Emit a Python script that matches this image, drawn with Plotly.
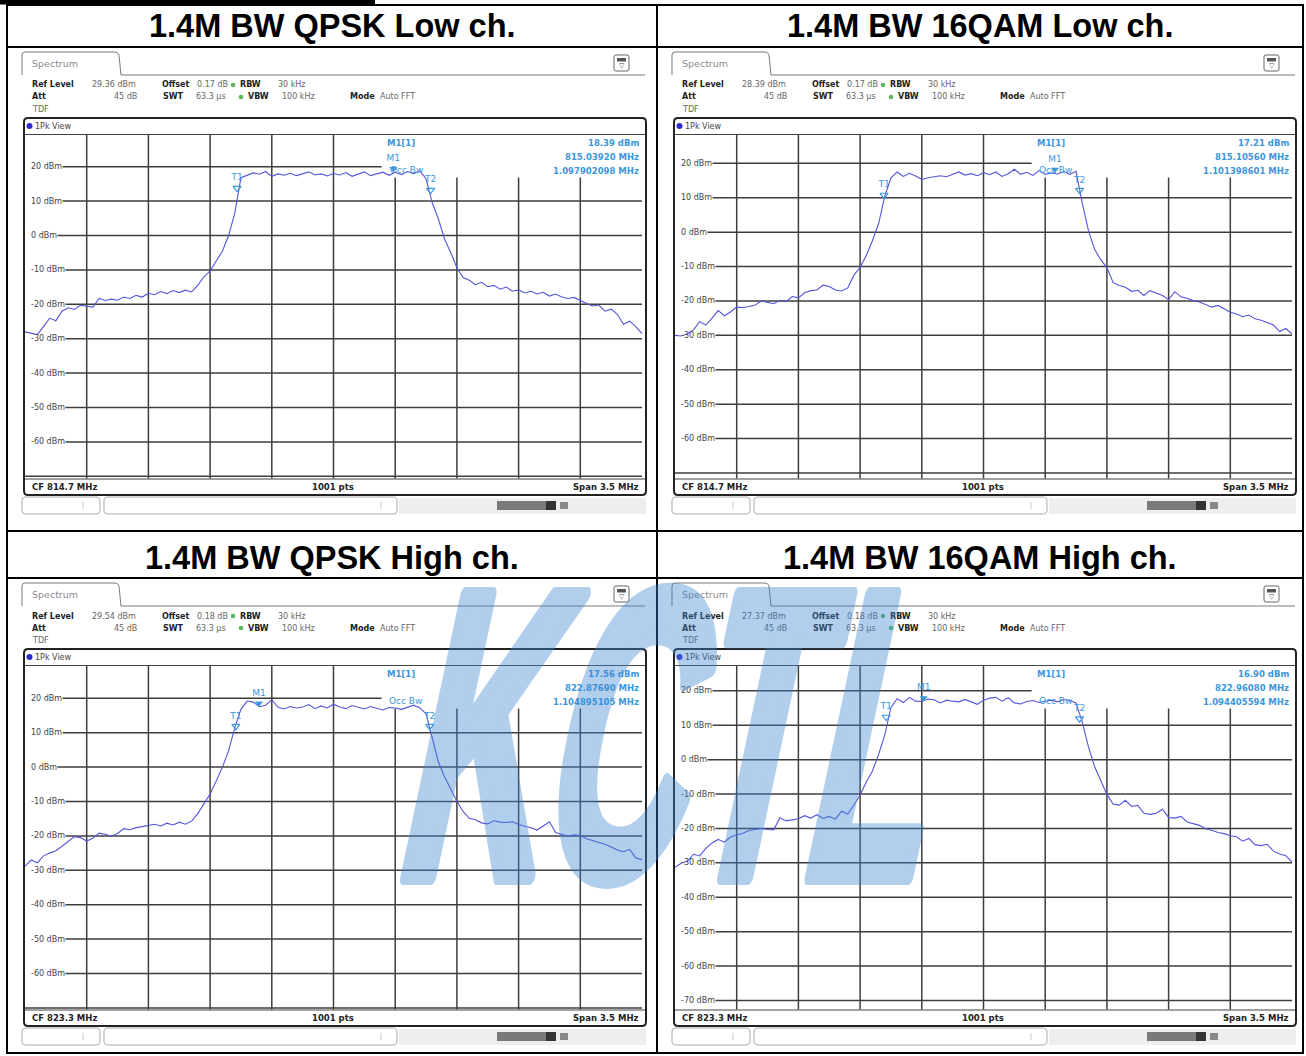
import math
import plotly.graph_objects as go

W, H = 1306, 1056

# ---------------- data ----------------
titles = ["1.4M BW QPSK Low ch.", "1.4M BW 16QAM Low ch.",
          "1.4M BW QPSK High ch.", "1.4M BW 16QAM High ch."]
cf_mhz = [814.7, 814.7, 823.3, 823.3]
span_mhz = 3.5
n_pts_label = "1001 pts"
ref_level = [29.36, 28.39, 29.54, 27.37]
offset_db = ["0.17", "0.17", "0.18", "0.18"]
m1_freq = [815.03920, 815.10560, 822.87690, 822.96080]
m1_level = [18.39, 17.21, 17.56, 16.90]
obw_mhz = ["1.097902098", "1.101398601", "1.104895105", "1.094405594"]
t1_freq = [814.153, 814.136, 822.746, 822.748]
t1_level = [13.8, 10.8, 11.9, 12.4]
t2_freq = [815.251, 815.245, 823.846, 823.845]
t2_level = [13.2, 12.2, 11.9, 11.9]
grid_label_values = [
    [20, 10, 0, -10, -20, -30, -40, -50, -60],
    [20, 10, 0, -10, -20, -30, -40, -50, -60],
    [20, 10, 0, -10, -20, -30, -40, -50, -60],
    [20, 10, 0, -10, -20, -30, -40, -50, -60, -70],
]

qpsk_low = [
    -28.0, -28.5, -28.8, -26.5, -24.0, -24.8, -22.0, -21.0, -21.5, -20.3,
    -20.6, -20.8, -18.3, -18.9, -18.5, -18.8, -17.9, -18.3, -17.4, -17.9,
    -16.8, -17.2, -16.3, -16.9, -16.0, -16.6, -15.9, -16.4, -14.5, -12.0,
    -10.3, -7.5, -4.5, 0.0, 6.5, 16.8, 17.6, 18.2, 17.8, 18.6,
    17.2, 17.9, 17.5, 18.1, 17.4, 17.9, 18.5, 17.6, 17.9, 17.3,
    18.0, 17.6, 18.3, 17.2, 17.8, 18.5, 17.4, 17.9, 18.4, 17.5,
    18.39, 17.7, 18.6, 18.0, 18.8, 16.5, 9.5, 4.8, -1.0, -5.0,
    -9.4, -12.2, -13.0, -14.3, -13.6, -14.9, -14.5, -15.6, -15.0, -16.2,
    -15.8, -16.7, -16.2, -17.0, -16.5, -17.6, -17.0, -17.9, -18.3, -18.0,
    -19.0, -19.8, -20.5, -20.2, -22.0, -21.4, -22.9, -25.8, -24.9, -26.5,
    -28.5,
]
qam16_low = [
    -30.0, -30.2, -29.5, -28.4, -26.0, -27.0, -25.0, -22.8, -24.3, -23.2,
    -21.8, -21.9, -21.6, -21.2, -20.0, -20.3, -20.8, -19.8, -20.2, -18.7,
    -19.1, -17.6, -17.0, -16.8, -15.4, -15.8, -16.8, -17.1, -16.2, -12.5,
    -10.2, -6.8, -2.5, 2.5, 10.5, 15.8, 17.5, 16.2, 17.1, 16.3,
    15.3, 15.8, 16.0, 16.4, 16.1, 16.9, 17.5, 16.6, 17.0, 16.4,
    17.3, 16.7, 17.5, 16.2, 17.0, 18.3, 16.8, 17.4, 16.5, 17.9,
    16.8, 17.21, 16.9, 17.6, 16.8, 17.7, 8.5, 0.5, -5.0, -8.0,
    -10.3, -14.6, -15.5, -16.0, -17.2, -16.9, -18.4, -17.0, -17.7, -18.4,
    -19.6, -17.3, -18.8, -19.2, -19.9, -20.3, -21.0, -21.8, -21.3, -22.4,
    -23.3, -23.8, -24.6, -24.1, -25.2, -25.6, -26.2, -27.0, -28.9, -28.0,
    -29.6,
]
qpsk_high = [
    -28.8, -27.0, -27.8, -25.8, -25.0, -24.3, -23.0, -21.7, -20.2, -20.5,
    -21.5, -20.7, -19.2, -19.5, -20.1, -19.3, -17.9, -18.2, -17.6, -17.3,
    -17.0, -16.6, -17.1, -16.3, -16.8, -16.0, -16.6, -15.7, -13.5, -10.5,
    -7.8, -4.0, 0.0, 4.8, 11.5, 16.8, 19.2, 18.9, 17.56, 18.0,
    19.6, 17.4, 16.9, 17.6, 17.2, 17.5, 18.2, 17.0, 17.8, 17.2,
    18.3, 17.5, 17.0, 17.9, 17.3, 16.9, 17.6, 17.1, 16.6, 17.3,
    17.2, 16.8, 17.5, 18.0, 17.2, 15.5, 8.5, 1.5, -2.8, -6.5,
    -9.9, -12.9, -14.9, -15.3, -16.2, -16.5, -15.6, -16.0, -16.1, -15.9,
    -16.7, -17.2, -17.6, -18.3, -17.2, -15.9, -19.0, -19.6, -20.1, -19.7,
    -19.9, -20.8, -21.3, -22.0, -22.4, -23.2, -24.1, -24.6, -23.9, -26.4,
    -26.9,
]
qam16_high = [
    -31.3, -30.1, -29.5, -27.5, -28.0, -25.8, -24.2, -23.2, -24.0, -22.5,
    -21.9, -21.4, -20.6, -20.2, -20.0, -20.3, -20.4, -16.9, -17.8, -17.5,
    -17.2, -16.3, -17.0, -16.0, -17.1, -16.5, -17.3, -15.0, -15.8, -13.2,
    -10.3, -6.5, -3.3, 1.5, 7.2, 15.2, 17.7, 16.6, 18.1, 17.0,
    16.9, 17.6, 17.4, 16.5, 17.3, 17.0, 16.8, 17.5, 16.7, 16.1,
    17.3, 17.9, 18.1, 17.0, 18.0, 16.5, 16.2, 16.9, 17.2, 16.6,
    17.0, 17.3, 16.8, 17.5, 17.2, 16.5, 11.0, 3.8, -2.0, -6.3,
    -10.1, -12.9, -13.2, -11.8, -13.6, -13.3, -15.6, -15.9, -15.6, -14.4,
    -16.8, -17.0, -16.5, -18.1, -18.6, -19.1, -20.1, -20.5, -21.2, -21.5,
    -22.1, -22.4, -23.7, -22.9, -24.7, -25.0, -24.6, -26.6, -27.4, -27.9,
    -29.8,
]
traces_data = [qpsk_low, qam16_low, qpsk_high, qam16_high]

# ---------------- style / layout helpers ----------------
TRACE_COL = "#5454dc"
MK_COL = "#3b97dc"
GRID_COL = "#3e3e3e"
FONT_RS = "DejaVu Sans"
panel_off = [(0, 0), (650, 0), (0, 531), (650, 531)]
PL, PR, PT, PB = 25, 642, 134.5, 478.5   # plot area (px) in first panel


def X(px):
    return px / W


def Y(py):
    return 1 - py / H


shapes, annotations = [], []


def rect(x0, y0, x1, y1, line_color=None, lw=1, fill=None, layer="above"):
    shapes.append(dict(type="rect", xref="paper", yref="paper",
                       x0=X(x0), x1=X(x1), y0=Y(y1), y1=Y(y0),
                       line=dict(color=line_color or "rgba(0,0,0,0)",
                                 width=lw if line_color else 0),
                       fillcolor=fill or "rgba(0,0,0,0)", layer=layer))


def hline(x0, x1, y, color, lw):
    shapes.append(dict(type="line", xref="paper", yref="paper",
                       x0=X(x0), x1=X(x1), y0=Y(y), y1=Y(y),
                       line=dict(color=color, width=lw)))


def vline(x, y0, y1, color, lw):
    shapes.append(dict(type="line", xref="paper", yref="paper",
                       x0=X(x), x1=X(x), y0=Y(y0), y1=Y(y1),
                       line=dict(color=color, width=lw)))


def path(cmds, color, lw, fill=None):
    parts = []
    for c in cmds:
        op = c[0]
        nums = c[1:]
        coords = []
        for i in range(0, len(nums), 2):
            coords.append(f"{X(nums[i]):.6f},{Y(nums[i + 1]):.6f}")
        parts.append(op + " " + " ".join(coords))
    shapes.append(dict(type="path", xref="paper", yref="paper",
                       path=" ".join(parts) + (" Z" if fill else ""),
                       line=dict(color=color, width=lw),
                       fillcolor=fill or "rgba(0,0,0,0)"))


def rrect(x0, y0, x1, y1, r, color, lw, fill=None):
    cmds = [("M", x0 + r, y0), ("L", x1 - r, y0), ("Q", x1, y0, x1, y0 + r),
            ("L", x1, y1 - r), ("Q", x1, y1, x1 - r, y1), ("L", x0 + r, y1),
            ("Q", x0, y1, x0, y1 - r), ("L", x0, y0 + r), ("Q", x0, y0, x0 + r, y0)]
    path(cmds, color, lw, fill)


def circle(cx, cy, r, fill):
    shapes.append(dict(type="circle", xref="paper", yref="paper",
                       x0=X(cx - r), x1=X(cx + r), y0=Y(cy + r), y1=Y(cy - r),
                       line=dict(width=0), fillcolor=fill))


def text(x, y, s, size=8, color="#333", bold=False, anchor="left", family=FONT_RS):
    annotations.append(dict(xref="paper", yref="paper", x=X(x), y=Y(y),
                            text=f"<b>{s}</b>" if bold else s, showarrow=False,
                            xanchor=anchor, yanchor="middle",
                            font=dict(family=family, size=size, color=color)))


# ---------------- table frame ----------------
rect(0, 0, 375, 4.5, fill="black")
rect(7, 5, 1303, 1053, line_color="black", lw=2)
for yy in (47, 531, 578):
    hline(7, 1303, yy, "black", 2)
vline(657, 5, 1053, "black", 2)
title_pos = [(332, 26), (980, 26), (332, 558), (980, 558)]
for k in range(4):
    text(title_pos[k][0], title_pos[k][1], titles[k], size=32.5, color="black",
         bold=True, anchor="center", family="Liberation Sans")

fig = go.Figure()
CW = {"-": 0.361, " ": 0.318, "d": 0.635, "B": 0.686, "m": 0.974}

for k in range(4):
    dx, dy = panel_off[k]
    ax = "" if k == 0 else str(k + 1)
    xa, ya = "x" + ax, "y" + ax
    cf = cf_mhz[k]
    ref = ref_level[k]

    # --- screen chrome ---
    path([("M", 22 + dx, 75 + dy), ("L", 22 + dx, 55 + dy), ("Q", 22 + dx, 52 + dy, 25 + dx, 52 + dy),
          ("L", 115 + dx, 52 + dy), ("Q", 118 + dx, 52 + dy, 119 + dx, 55 + dy),
          ("L", 121 + dx, 75 + dy), ("L", 645 + dx, 75 + dy)], "#7a7a7a", 1)
    text(30 + dx, 63 + dy, "Spectrum", size=9.5, color="#8a8a8a")
    rrect(614 + dx, 55 + dy, 629 + dx, 71 + dy, 2, "#666", 1)
    rect(617 + dx, 58 + dy, 626 + dx, 61.5 + dy, fill="#555")
    text(621.5 + dx, 66 + dy, "▽", size=7, color="#555", anchor="center")

    r1, r2 = 85 + dy, 97 + dy
    text(30 + dx, r1, "Ref Level", 8, "#222", True)
    text(90 + dx, r1, f"{ref:.2f} dBm", 8, "#666")
    text(160 + dx, r1, "Offset", 8, "#222", True)
    text(195 + dx, r1, f"{offset_db[k]} dB", 8, "#666")
    circle(233 + dx, r1, 2.3, "#5cb85c")
    text(238 + dx, r1, "RBW", 8, "#222", True)
    text(276 + dx, r1, "30 kHz", 8, "#666")
    text(30 + dx, r2, "Att", 8, "#222", True)
    text(139 + dx, r2, "45 dB", 8, "#666", anchor="right")
    text(161 + dx, r2, "SWT", 8, "#222", True)
    text(194 + dx, r2, "63.3 µs", 8, "#666")
    circle(241 + dx, r2, 2.3, "#5cb85c")
    text(246 + dx, r2, "VBW", 8, "#222", True)
    text(280 + dx, r2, "100 kHz", 8, "#666")
    text(348 + dx, r2, "Mode", 8, "#222", True)
    text(378 + dx, r2, "Auto FFT", 8, "#666")
    text(30 + dx, 109 + dy, "TDF", 8, "#666")

    rrect(24 + dx, 118 + dy, 646 + dx, 495 + dy, 4, "#222", 2)
    hline(25 + dx, 645 + dx, 134.5 + dy, "#444", 1.2)
    hline(25 + dx, 645 + dx, 479 + dy, "#444", 1.2)
    circle(29.5 + dx, 126 + dy, 3, "#2b2bd0")
    text(33 + dx, 126 + dy, "1Pk View", 8, "#444")
    text(30 + dx, 487 + dy, f"CF {cf:.1f} MHz", 8.5, "#222", True)
    text(333 + dx, 487 + dy, n_pts_label, 8.5, "#222", True, "center")
    text(641 + dx, 487 + dy, f"Span {span_mhz:.1f} MHz", 8.5, "#222", True, "right")

    rrect(22 + dx, 497 + dy, 100 + dx, 514 + dy, 4, "#aaa", 1)
    vline(83 + dx, 502 + dy, 509 + dy, "#ccc", 1)
    rrect(104 + dx, 497 + dy, 397 + dx, 514 + dy, 4, "#aaa", 1)
    vline(381 + dx, 502 + dy, 509 + dy, "#ccc", 1)
    rect(399 + dx, 498 + dy, 646 + dx, 514 + dy, fill="#eeeeee")
    rect(497 + dx, 501 + dy, 556 + dx, 510 + dy, fill="#7a7a7a")
    rect(546 + dx, 501 + dy, 556 + dx, 510 + dy, fill="#333")
    rect(560 + dx, 502 + dy, 568 + dx, 509 + dy, fill="#888")

    # --- axes ---
    x0, x1 = cf - span_mhz / 2, cf + span_mhz / 2
    fig.layout["xaxis" + ax] = dict(
        domain=[X(PL + dx), X(PR + dx)], range=[x0, x1], showgrid=False,
        showticklabels=False, ticks="", zeroline=False, showline=False, anchor=ya,
        fixedrange=True)
    fig.layout["yaxis" + ax] = dict(
        domain=[Y(PB + dy), Y(PT + dy)], range=[ref - 100, ref], showgrid=False,
        showticklabels=False, ticks="", zeroline=False, showline=False, anchor=xa,
        fixedrange=True)

    # grid (10 divisions of the span, every 10 dB), drawn below the trace
    for j in range(1, 10):
        fx = x0 + j * span_mhz / 10
        shapes.append(dict(type="line", xref=xa, yref=ya + " domain", x0=fx, x1=fx,
                           y0=0, y1=1, line=dict(color=GRID_COL, width=1.5), layer="below"))
    v = math.ceil((ref - 100) / 10) * 10
    while v < ref:
        shapes.append(dict(type="line", xref=xa + " domain", yref=ya, x0=0, x1=1,
                           y0=v, y1=v, line=dict(color=GRID_COL, width=1.5), layer="below"))
        v += 10
    # marker info box (covers grid, below trace)
    shapes.append(dict(type="rect", xref=xa + " domain", yref=ya + " domain",
                       x0=0.578, x1=1.0, y0=1 - 43 / (PB - PT), y1=1.0,
                       fillcolor="white", line=dict(width=0), layer="below"))
    # gaps for grid labels + labels
    for v in grid_label_values[k]:
        s = f"{v} dBm"
        wpx = sum(CW.get(c, 0.636) for c in s) * 8
        shapes.append(dict(type="rect", xref=xa + " domain", yref=ya,
                           x0=0.0, x1=(5 + wpx + 1.5) / (PR - PL), y0=v - 1.2, y1=v + 1.2,
                           fillcolor="white", line=dict(width=0), layer="below"))
        annotations.append(dict(xref=xa + " domain", yref=ya, x=0.007, y=v, text=s,
                                showarrow=False, xanchor="left", yanchor="middle",
                                font=dict(family=FONT_RS, size=8, color="#444")))

    # --- trace ---
    vals = traces_data[k]
    n = len(vals)
    freqs = [x0 + span_mhz * i / (n - 1) for i in range(n)]
    fig.add_trace(go.Scatter(x=freqs, y=vals, mode="lines",
                             line=dict(color=TRACE_COL, width=1.1),
                             xaxis=xa, yaxis=ya, hoverinfo="skip", showlegend=False))
    fig.add_trace(go.Scatter(x=[t1_freq[k], t2_freq[k]], y=[t1_level[k], t2_level[k]],
                             mode="markers+text", text=["T1", "T2"], textposition="top center",
                             textfont=dict(family=FONT_RS, size=9, color=MK_COL),
                             marker=dict(symbol="triangle-down-open", size=7,
                                         color=MK_COL, line=dict(width=1.2, color=MK_COL)),
                             xaxis=xa, yaxis=ya, hoverinfo="skip", showlegend=False))
    fig.add_trace(go.Scatter(x=[m1_freq[k]], y=[m1_level[k] + 1.0],
                             mode="markers+text", text=["M1"], textposition="top center",
                             textfont=dict(family=FONT_RS, size=9, color=MK_COL),
                             marker=dict(symbol="triangle-down", size=7, color=MK_COL),
                             xaxis=xa, yaxis=ya, hoverinfo="skip", showlegend=False))
    annotations.append(dict(xref=xa, yref="paper", x=t2_freq[k], y=Y(170 + dy), xshift=-6,
                            text="Occ Bw", showarrow=False, xanchor="right", yanchor="middle",
                            font=dict(family=FONT_RS, size=9, color=MK_COL)))

    # --- marker readout ---
    text(385 + dx, 142.7 + dy, "M1[1]", 8.5, MK_COL, True)
    text(641 + dx, 142.7 + dy, f"{m1_level[k]:.2f} dBm", 8.5, MK_COL, True, "right")
    text(641 + dx, 156.5 + dy, f"{m1_freq[k]:.5f} MHz", 8.5, MK_COL, True, "right")
    text(641 + dx, 170.5 + dy, f"{obw_mhz[k]} MHz", 8.5, MK_COL, True, "right")

# watermark
annotations.append(dict(xref="paper", yref="paper", x=X(684), y=Y(735), text="<b>KCTL</b>",
                        showarrow=False, xanchor="center", yanchor="middle", opacity=0.4,
                        font=dict(family="Liberation Sans", size=410, color="#3f86d4")))

fig.update_layout(width=W, height=H, margin=dict(l=0, r=0, t=0, b=0),
                  paper_bgcolor="white", plot_bgcolor="rgba(0,0,0,0)",
                  shapes=shapes, annotations=annotations, showlegend=False)

post = """
document.body.style.margin = '0';
document.body.style.padding = '0';
(function(){
  var gd = document.getElementById('{plot_id}');
  var ts = gd.querySelectorAll('text.annotation-text');
  ts.forEach(function(t){
    if (t.textContent === 'KCTL') {
      var bb = t.getBBox();
      var cx = bb.x + bb.width/2, cy = bb.y + bb.height/2;
      t.setAttribute('transform', 'translate(' + cx + ',' + cy + ') skewX(-12) scale(0.48,1) translate(' + (-cx) + ',' + (-cy) + ')');
      t.style.stroke = '#3f86d4';
      t.style.strokeWidth = '16px';
      t.style.strokeLinejoin = 'round';
    }
  });
})();
"""
fig.write_html("out.html", post_script=post, config={"staticPlot": True})
